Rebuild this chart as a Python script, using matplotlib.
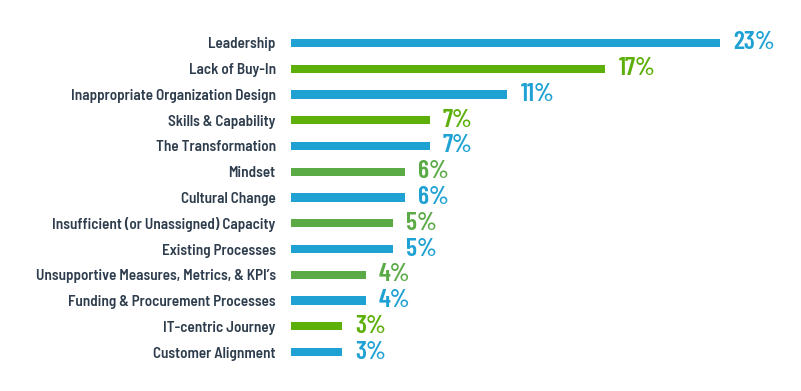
import matplotlib.pyplot as plt

categorias = [
    "Leadership",
    "Lack of Buy-In",
    "Inappropriate Organization Design",
    "Skills & Capability",
    "The Transformation",
    "Mindset",
    "Cultural Change",
    "Insufficient (or Unassigned) Capacity",
    "Existing Processes",
    "Unsupportive Measures, Metrics, & KPI\u2019s",
    "Funding & Procurement Processes",
    "IT-centric Journey",
    "Customer Alignment",
]
valores = [23.0, 16.85, 11.6, 7.45, 7.45, 6.1, 6.1, 5.45, 5.45, 4.0, 4.0, 2.75, 2.75]
etiquetas = ["23%", "17%", "11%", "7%", "7%", "6%", "6%", "5%", "5%", "4%", "4%", "3%", "3%"]

AZUL = "#1fa2d3"
LIMA = "#5daf0a"
VERDE = "#5aab46"
colores = [AZUL, LIMA, AZUL, LIMA, AZUL, VERDE, AZUL, VERDE, AZUL, VERDE, AZUL, LIMA, AZUL]
TEXTO = "#2e3d4d"

plt.rcParams["font.family"] = ["Barlow Semi Condensed", "DejaVu Sans"]

fig = plt.figure(figsize=(8.01, 3.91), dpi=100)
ax = fig.add_axes([291 / 801, 26 / 391, 489 / 801, 335 / 391])

posiciones = list(range(len(categorias)))
ax.barh(posiciones, valores, height=0.32, color=colores)

for pos, valor, texto, color in zip(posiciones, valores, etiquetas, colores):
    ax.text(valor + 0.7, pos, texto, va="center", ha="left",
            family=["Barlow Condensed", "DejaVu Sans"],
            fontsize=18.5, fontweight=600, color=color)

ax.set_xlim(0, 489 / 18.65)
ax.set_ylim(12.5, -0.5)
ax.set_yticks(posiciones)
ax.set_yticklabels(categorias, fontsize=10.9, fontweight=600, color=TEXTO)
ax.tick_params(axis="y", length=0, pad=11)
ax.set_xticks([])
for lado in ax.spines.values():
    lado.set_visible(False)

fig.savefig("out.png", dpi=100)
